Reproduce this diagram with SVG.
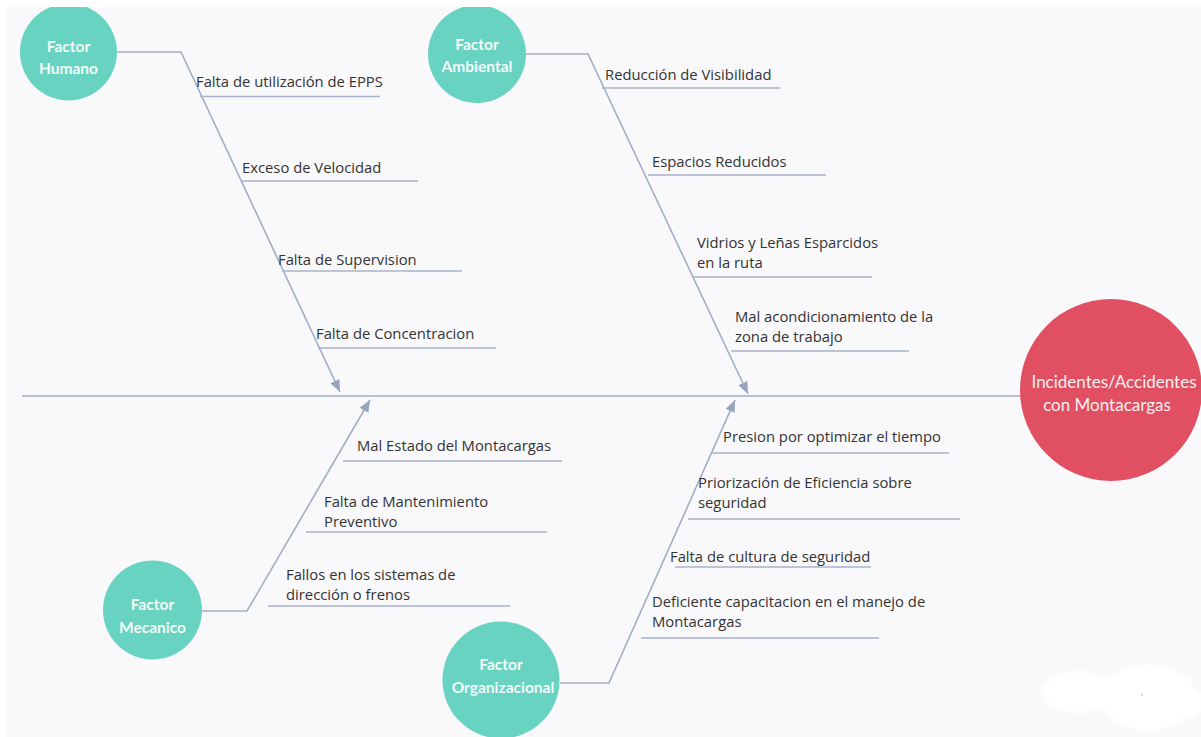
<svg xmlns="http://www.w3.org/2000/svg" width="1201" height="737" viewBox="0 0 1201 737">
<style>
.bg{fill:#f9f9fb}
.cause circle{fill:#68d3c0}
.title{font-family:Lato,"Open Sans",sans-serif;font-weight:bold;font-size:15.5px;fill:#f2fbf9;text-anchor:middle}
.effect circle{fill:#e05062}
.etitle{font-family:Lato,"Open Sans",sans-serif;font-size:17px;fill:#fbeff1;text-anchor:middle}
.bone{fill:none;stroke:#a2adc3;stroke-width:1.6}
.sub{fill:none;stroke:#a8b2c8;stroke-width:1.4}
.lbl{font-family:"Open Sans","Noto Sans",sans-serif;font-size:14.8px;fill:#333333}
</style>
<defs>
<marker id="ah" markerUnits="userSpaceOnUse" markerWidth="14" markerHeight="12" refX="12" refY="5" orient="auto">
<path d="M0,0 L12,5 L0,10 z" fill="#98a4bd"/>
</marker>
<filter id="soft" x="-20%" y="-20%" width="140%" height="140%"><feGaussianBlur stdDeviation="2"/></filter>
</defs>
<rect width="1201" height="737" fill="#ffffff"/>
<rect class="bg" x="7" y="7" width="1194" height="730"/>

<g id="connectors">
<line class="bone" x1="22" y1="396" x2="1022" y2="396"/>
<path class="bone" d="M117,52 H181 L340,392" marker-end="url(#ah)"/>
<path class="bone" d="M526,54 H588 L748,394" marker-end="url(#ah)"/>
<path class="bone" d="M202,611 H247 L370,400" marker-end="url(#ah)"/>
<path class="bone" d="M560,683 H609 L735,400" marker-end="url(#ah)"/>
<line class="sub" x1="200" y1="96.5" x2="380" y2="96.5"/>
<line class="sub" x1="241" y1="181" x2="418" y2="181"/>
<line class="sub" x1="282" y1="271" x2="462" y2="271"/>
<line class="sub" x1="318" y1="348" x2="496" y2="348"/>
<line class="sub" x1="602" y1="88" x2="780" y2="88"/>
<line class="sub" x1="648" y1="175" x2="826" y2="175"/>
<line class="sub" x1="693" y1="277" x2="872" y2="277"/>
<line class="sub" x1="731" y1="351" x2="909" y2="351"/>
<line class="sub" x1="343" y1="461" x2="562" y2="461"/>
<line class="sub" x1="306" y1="532" x2="547" y2="532"/>
<line class="sub" x1="268" y1="606" x2="510" y2="606"/>
<line class="sub" x1="712" y1="453" x2="949" y2="453"/>
<line class="sub" x1="688" y1="519" x2="960" y2="519"/>
<line class="sub" x1="675" y1="567" x2="871" y2="567"/>
<line class="sub" x1="641" y1="638" x2="879" y2="638"/>
</g>

<g id="labels">
<text class="lbl" x="196" y="87">Falta de utilización de EPPS</text>
<text class="lbl" x="242" y="173">Exceso de Velocidad</text>
<text class="lbl" x="278" y="265">Falta de Supervision</text>
<text class="lbl" x="316" y="339">Falta de Concentracion</text>
<text class="lbl" x="605" y="80">Reducción de Visibilidad</text>
<text class="lbl" x="652" y="167">Espacios Reducidos</text>
<text class="lbl" x="697" y="248">Vidrios y Leñas Esparcidos</text>
<text class="lbl" x="697" y="268">en la ruta</text>
<text class="lbl" x="735" y="322">Mal acondicionamiento de la</text>
<text class="lbl" x="735" y="342">zona de trabajo</text>
<text class="lbl" x="357" y="451">Mal Estado del Montacargas</text>
<text class="lbl" x="324" y="507">Falta de Mantenimiento</text>
<text class="lbl" x="324" y="527">Preventivo</text>
<text class="lbl" x="286" y="580">Fallos en los sistemas de</text>
<text class="lbl" x="286" y="600">dirección o frenos</text>
<text class="lbl" x="723" y="442">Presion por optimizar el tiempo</text>
<text class="lbl" x="698" y="488">Priorización de Eficiencia sobre</text>
<text class="lbl" x="698" y="508">seguridad</text>
<text class="lbl" x="670" y="562">Falta de cultura de seguridad</text>
<text class="lbl" x="652" y="607">Deficiente capacitacion en el manejo de</text>
<text class="lbl" x="652" y="627">Montacargas</text>
</g>

<g id="factor-humano" class="cause">
<circle cx="68.5" cy="52" r="48.5"/>
<text class="title" x="68.5" y="52">Factor</text>
<text class="title" x="68.5" y="74">Humano</text>
</g>
<g id="factor-ambiental" class="cause">
<circle cx="477" cy="54" r="49"/>
<text class="title" x="477" y="50">Factor</text>
<text class="title" x="477" y="72">Ambiental</text>
</g>
<g id="factor-mecanico" class="cause">
<circle cx="152.5" cy="610" r="49.5"/>
<text class="title" x="152.5" y="610">Factor</text>
<text class="title" x="152.5" y="633">Mecanico</text>
</g>
<g id="factor-organizacional" class="cause">
<circle cx="501" cy="680" r="58.5"/>
<text class="title" x="501" y="670">Factor</text>
<text class="title" x="503" y="693">Organizacional</text>
</g>
<g id="efecto" class="effect">
<circle cx="1111" cy="390" r="91"/>
<text class="etitle" x="1114" y="388">Incidentes/Accidentes</text>
<text class="etitle" x="1107" y="411">con Montacargas</text>
</g>

<rect x="0" y="0" width="1201" height="7" fill="#ffffff"/>
<rect x="0" y="0" width="7" height="737" fill="#ffffff"/>

<g filter="url(#soft)" fill="#ffffff">
<ellipse cx="1078" cy="692" rx="36" ry="21"/>
<ellipse cx="1148" cy="697" rx="48" ry="33"/>
<ellipse cx="1185" cy="703" rx="18" ry="17"/>
</g>
<circle cx="1142" cy="695" r="0.8" fill="#b0b0b0"/>
</svg>
